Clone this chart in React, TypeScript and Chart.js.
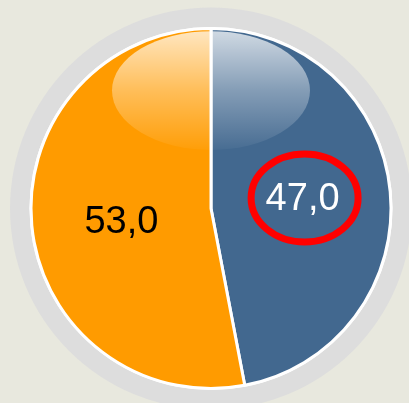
import React, { useEffect, useRef } from "react";
import { Chart, registerables } from "chart.js";

Chart.register(...registerables);

const categories: string[] = ["B", "A"];
const values: number[] = [47.0, 53.0];
const sliceColors: string[] = ["#42688f", "#ff9b00"];
const labelColors: string[] = ["#ffffff", "#000000"];
const labelNudge: [number, number][] = [[2, -2], [0, 5]];
const highlightedIndex = 0;

const fmt = (v: number) => v.toFixed(1).replace(".", ",");

const decorPlugin = {
  id: "decor",
  beforeDraw(chart: any) {
    const { ctx, width, height } = chart;
    ctx.save();
    ctx.fillStyle = "#e8e8de";
    ctx.fillRect(0, 0, width, height);
    ctx.restore();
  },
  beforeDatasetsDraw(chart: any) {
    const arc = chart.getDatasetMeta(0).data[0];
    if (!arc) return;
    const { x, y, outerRadius } = arc.getProps(["x", "y", "outerRadius"], true);
    const ctx = chart.ctx;
    ctx.save();
    ctx.beginPath();
    ctx.arc(x, y, outerRadius + 21, 0, Math.PI * 2);
    ctx.fillStyle = "#dddddd";
    ctx.fill();
    ctx.beginPath();
    ctx.arc(x, y, outerRadius + 1.5, 0, Math.PI * 2);
    ctx.fillStyle = "#ffffff";
    ctx.fill();
    ctx.restore();
  },
  afterDatasetsDraw(chart: any) {
    const meta = chart.getDatasetMeta(0);
    const arc0 = meta.data[0];
    if (!arc0) return;
    const { x, y, outerRadius } = arc0.getProps(["x", "y", "outerRadius"], true);
    const ctx = chart.ctx;
    // glossy highlight
    ctx.save();
    ctx.beginPath();
    ctx.arc(x, y, outerRadius - 1.5, 0, Math.PI * 2);
    ctx.clip();
    const ey = y - outerRadius * 0.655;
    const ry = outerRadius * 0.33;
    const rx = outerRadius * 0.55;
    const g = ctx.createLinearGradient(0, ey - ry, 0, ey + ry);
    g.addColorStop(0, "rgba(255,255,255,0.75)");
    g.addColorStop(0.5, "rgba(255,255,255,0.35)");
    g.addColorStop(1, "rgba(255,255,255,0.03)");
    ctx.beginPath();
    ctx.ellipse(x, ey, rx, ry, 0, 0, Math.PI * 2);
    ctx.fillStyle = g;
    ctx.fill();
    ctx.restore();

    // labels
    const ds = chart.data.datasets[0];
    meta.data.forEach((el: any, i: number) => {
      const p = el.getProps(["startAngle", "endAngle", "outerRadius", "x", "y"], true);
      const mid = (p.startAngle + p.endAngle) / 2;
      const r = p.outerRadius * 0.5;
      const lx = p.x + Math.cos(mid) * r + labelNudge[i][0];
      const ly = p.y + Math.sin(mid) * r + labelNudge[i][1];
      ctx.save();
      ctx.font = "38px 'Liberation Sans', Arial, sans-serif";
      ctx.fillStyle = labelColors[i];
      ctx.textAlign = "center";
      ctx.textBaseline = "middle";
      ctx.fillText(fmt(ds.data[i]), lx, ly + 1);
      if (i === highlightedIndex) {
        ctx.beginPath();
        ctx.ellipse(lx + 2, ly, 53.5, 44, 0, 0, Math.PI * 2);
        ctx.strokeStyle = "#ff0000";
        ctx.lineWidth = 7;
        ctx.stroke();
      }
      ctx.restore();
    });
  },
};

export default function App() {
  const ref = useRef<HTMLCanvasElement | null>(null);
  useEffect(() => {
    document.body.style.margin = "0";
    if (!ref.current) return;
    const chart = new Chart(ref.current, {
      type: "pie",
      data: {
        labels: categories,
        datasets: [
          {
            data: values,
            backgroundColor: sliceColors,
            borderColor: "#ffffff",
            borderWidth: 3,
          },
        ],
      },
      options: {
        responsive: false,
        animation: false,
        devicePixelRatio: 1,
        radius: 180,
        layout: { padding: { left: 13, right: 0, top: 14, bottom: 0 } },
        plugins: {
          legend: { display: false },
          tooltip: { enabled: false },
          title: { display: false },
        },
      },
      plugins: [decorPlugin],
    });
    return () => chart.destroy();
  }, []);
  return (
    <div style={{ width: 409, height: 403 }}>
      <canvas ref={ref} width={409} height={403} style={{ display: "block" }} />
    </div>
  );
}
